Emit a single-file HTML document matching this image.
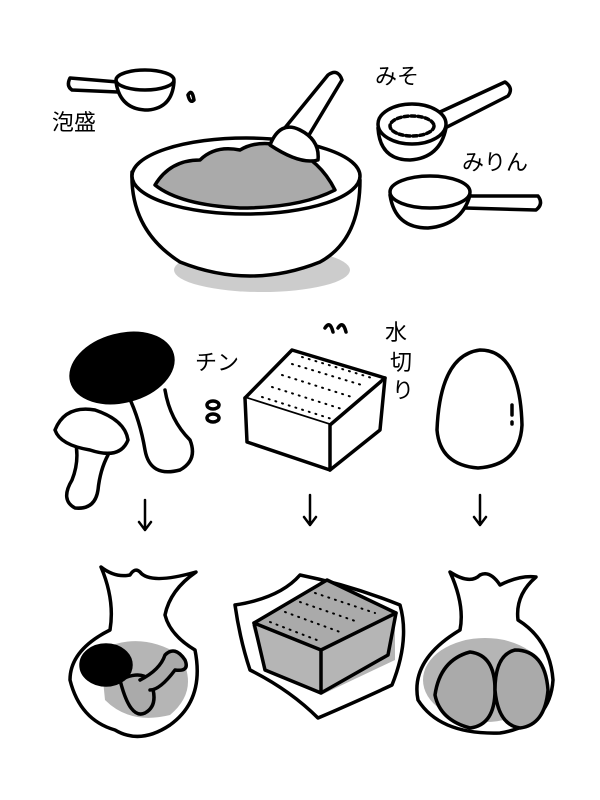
<!DOCTYPE html><html><head><style>body{margin:0;background:#fff}svg{display:block}text{font-family:"Liberation Sans","Noto Sans CJK JP",sans-serif;font-size:22px}</style></head><body>
<svg width="600" height="800" viewBox="0 0 600 800" fill="none" stroke="#000" stroke-width="3.5" stroke-linecap="round" stroke-linejoin="round">
<ellipse cx="262" cy="270" rx="88" ry="22" fill="#ccc" stroke="none"/>
<path d="M132 172 Q130 230 180 262 Q250 290 320 262 Q360 240 360 180" fill="#fff"/>
<ellipse cx="246" cy="176" rx="114" ry="38" fill="#fff"/>
<path d="M155 185 Q170 160 200 160 Q215 145 240 150 Q260 138 290 148 Q320 160 335 190 Q300 208 240 208 Q180 205 155 185Z" fill="#aaa"/>
<path d="M275 140 L328 75 Q338 68 342 80 L300 150" fill="#fff"/>
<path d="M270 145 Q280 120 300 130 Q320 140 318 160 Q300 165 270 145Z" fill="#fff"/>
<path d="M118 82 L70 78 Q66 86 72 90 L118 92" fill="#fff"/>
<path d="M116 82 Q120 110 148 110 Q172 108 174 82" fill="#fff"/>
<ellipse cx="145" cy="80" rx="29" ry="10" fill="#fff"/>
<path d="M188 95 Q192 88 194 100 Q190 104 188 95" />
<text x="52" y="130" stroke="none" fill="#000" font-size="26">泡盛</text>
<text x="375" y="84" stroke="none" fill="#000">みそ</text>
<path d="M440 112 L505 82 Q514 88 508 96 L445 128" fill="#fff"/>
<path d="M378 128 Q380 160 410 160 Q440 158 446 128" fill="#fff"/>
<ellipse cx="412" cy="124" rx="34" ry="20" fill="#fff"/>
<ellipse cx="412" cy="126" rx="22" ry="10" fill="#fff" stroke-dasharray="4 3"/>
<text x="462" y="170" stroke="none" fill="#000">みりん</text>
<path d="M465 196 L538 196 Q544 204 536 210 L465 208" fill="#fff"/>
<path d="M390 195 Q395 228 428 228 Q462 225 470 195" fill="#fff"/>
<ellipse cx="430" cy="192" rx="40" ry="16" fill="#fff"/>
<path d="M128 395 Q140 420 145 450 Q150 478 180 470 Q198 460 190 440 Q170 420 165 390" fill="#fff"/>
<ellipse cx="122" cy="368" rx="52" ry="33" fill="#000" transform="rotate(-15 122 368)"/>
<path d="M75 440 Q80 460 72 480 Q60 500 75 508 Q95 510 98 490 Q100 470 108 455" fill="#fff"/>
<path d="M55 430 Q65 405 95 410 Q125 420 128 440 Q120 460 90 450 Q60 445 55 430Z" fill="#fff"/>
<text x="195" y="370" stroke="none" fill="#000">チン</text>
<ellipse cx="213" cy="405" rx="6" ry="4"/><ellipse cx="213" cy="418" rx="6" ry="4"/>
<path d="M245 398 L292 350 L385 378 L330 425Z" fill="#fff"/>
<path d="M245 398 L247 442 L330 470 L330 425" fill="#fff"/>
<path d="M330 470 L380 430 L385 378" fill="#fff"/>
<g stroke-width="2" stroke-dasharray="1 6"><path d="M262 397 L335 420"/><path d="M272 387 L345 410"/><path d="M282 375 L355 398"/><path d="M292 364 L365 386"/><path d="M302 357 L372 378"/></g>
<text x="385" y="340" stroke="none" fill="#000" font-size="20">水</text>
<text x="390" y="370" stroke="none" fill="#000" font-size="20">切</text>
<text x="392" y="398" stroke="none" fill="#000" font-size="20">り</text>
<path d="M325 328 Q330 320 333 332 M338 328 Q343 320 346 332"/>
<path d="M480 350 Q440 355 437 430 Q440 465 478 468 Q520 465 522 425 Q520 350 480 350Z" fill="#fff"/>
<path d="M512 405 L512 415 M512 422 L512 424"/>
<g stroke-width="2.5"><path d="M145 500 L145 530 M139 522 L145 530 L151 522"/><path d="M310 495 L310 525 M304 517 L310 525 L316 517"/><path d="M480 495 L480 525 M474 517 L480 525 L486 517"/></g>
<path d="M101 567 Q115 578 130 575 Q135 567 140 572 Q150 585 196 572 Q170 590 165 615 Q170 635 195 650 Q205 700 170 725 Q140 745 115 730 Q80 720 70 680 Q70 650 110 630 Q115 600 101 567Z" fill="#fff"/>
<path d="M100 650 Q140 630 180 655 Q200 690 170 715 Q130 725 105 700Z" fill="#b5b5b5" stroke="none"/>
<path d="M120 680 Q130 720 145 713 Q160 705 150 680 Q140 670 120 680Z" fill="#aaa"/>
<path d="M140 680 Q160 670 165 655 Q175 645 185 660 Q190 672 175 670 Q160 690 150 690" fill="#aaa"/>
<ellipse cx="106" cy="665" rx="25" ry="20" fill="#000"/>
<path d="M235 605 Q280 598 300 575 Q350 585 400 605 Q410 640 392 685 Q360 700 318 718 Q290 690 250 670 Q240 640 235 605Z" fill="#fff"/>
<path d="M252 625 L325 583 L395 613 L395 660 L321 695 L265 670Z" fill="#b5b5b5" stroke="none"/>
<path d="M327 580 L254 623 L321 650 L396 613Z" fill="#aaa"/>
<path d="M254 623 L265 670 L321 693 L388 655 L396 613 M321 650 L321 693"/>
<g stroke-width="2" stroke-dasharray="1 6"><path d="M270 622 L322 642"/><path d="M285 612 L340 632"/><path d="M300 602 L358 622"/><path d="M315 593 L375 613"/></g>
<path d="M450 572 Q470 585 480 575 Q490 570 500 585 Q520 575 536 577 Q515 595 518 620 Q550 640 553 680 Q550 725 500 733 Q440 735 418 700 Q410 660 460 630 Q465 605 450 572Z" fill="#fff"/>
<ellipse cx="485" cy="680" rx="62" ry="42" fill="#b5b5b5" stroke="none"/>
<path d="M470 652 Q440 660 435 695 Q440 720 470 728 Q495 725 495 690 Q495 655 470 652Z" fill="#aaa"/>
<path d="M515 650 Q495 655 495 690 Q498 725 520 728 Q545 725 548 690 Q545 650 515 650Z" fill="#aaa"/>
</svg></body></html>
